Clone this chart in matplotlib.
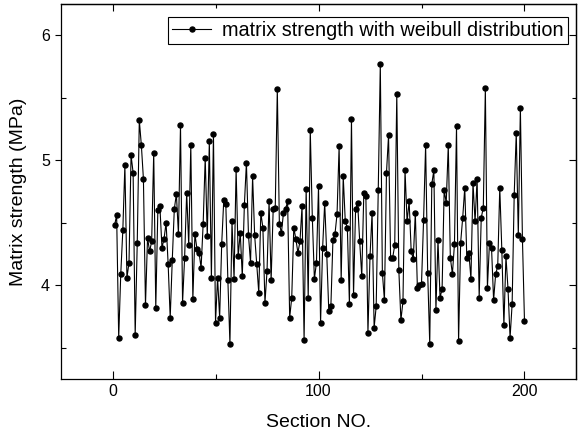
import numpy as np
import matplotlib
matplotlib.use('Agg')
import matplotlib.pyplot as plt
from matplotlib.ticker import MultipleLocator

plt.rcParams['font.family'] = ['Liberation Sans', 'DejaVu Sans']

# matrix strength of each section (MPa)
strength = [
    4.48, 4.56, 3.58, 4.09, 4.44, 4.96, 4.06, 4.18, 5.04, 4.90,
    3.60, 4.34, 5.32, 5.12, 4.85, 3.84, 4.38, 4.27, 4.35, 5.06,
    3.82, 4.60, 4.63, 4.30, 4.37, 4.50, 4.17, 3.74, 4.20, 4.61,
    4.73, 4.41, 5.28, 3.86, 4.22, 4.74, 4.32, 5.12, 3.89, 4.41,
    4.29, 4.26, 4.14, 4.49, 5.02, 4.39, 5.15, 4.06, 5.21, 3.70,
    4.06, 3.74, 4.33, 4.68, 4.65, 4.04, 3.53, 4.51, 4.05, 4.93,
    4.23, 4.42, 4.07, 4.64, 4.98, 4.40, 4.18, 4.87, 4.40, 4.17,
    3.94, 4.58, 4.46, 3.86, 4.11, 4.67, 4.04, 4.61, 4.62, 5.57,
    4.49, 4.42, 4.58, 4.61, 4.67, 3.74, 3.90, 4.46, 4.37, 4.26,
    4.35, 4.63, 3.56, 4.77, 3.90, 5.24, 4.54, 4.05, 4.18, 4.79,
    3.70, 4.30, 4.66, 4.25, 3.79, 3.83, 4.36, 4.41, 4.57, 5.11,
    4.04, 4.87, 4.51, 4.46, 3.85, 5.33, 3.92, 4.61, 4.66, 4.35,
    4.07, 4.74, 4.71, 3.62, 4.23, 4.58, 3.66, 3.83, 4.76, 5.77,
    4.10, 3.88, 4.90, 5.20, 4.22, 4.22, 4.32, 5.53, 4.12, 3.72,
    3.87, 4.92, 4.51, 4.67, 4.27, 4.21, 4.58, 3.98, 4.00, 4.01,
    4.52, 5.12, 4.10, 3.53, 4.81, 4.92, 3.80, 4.36, 3.90, 3.97,
    4.76, 4.66, 5.12, 4.22, 4.09, 4.33, 5.27, 3.55, 4.34, 4.54,
    4.78, 4.22, 4.26, 4.05, 4.82, 4.51, 4.85, 3.90, 4.54, 4.62,
    5.58, 3.98, 4.34, 4.30, 3.88, 4.09, 4.15, 4.78, 4.28, 3.68,
    4.23, 3.97, 3.58, 3.85, 4.72, 5.22, 4.40, 5.42, 4.37, 3.71,
]
section = np.arange(1, len(strength) + 1)

fig = plt.figure(figsize=(5.79, 4.41), dpi=100)
ax = fig.add_axes([0.1054, 0.1406, 0.8894, 0.8504])

ax.plot(section, strength, '-o', color='black', lw=0.8, ms=3.6,
        label='matrix strength with weibull distribution')

ax.set_xlim(-25, 225)
ax.set_ylim(3.25, 6.25)
ax.xaxis.set_major_locator(MultipleLocator(100))
ax.xaxis.set_minor_locator(MultipleLocator(50))
ax.yaxis.set_major_locator(MultipleLocator(1))
ax.yaxis.set_minor_locator(MultipleLocator(0.5))

ax.tick_params(which='both', direction='in', labelsize=11.5, width=0.8)
ax.tick_params(which='major', length=6)
ax.tick_params(which='minor', length=3.5)
ax.tick_params(axis='y', which='major', direction='out', length=4.5)

# mirrored ticks on top and right, pointing inward
top = ax.secondary_xaxis('top')
right = ax.secondary_yaxis('right')
top.xaxis.set_major_locator(MultipleLocator(100))
top.xaxis.set_minor_locator(MultipleLocator(50))
right.yaxis.set_major_locator(MultipleLocator(1))
right.yaxis.set_minor_locator(MultipleLocator(0.5))
for sec in (top, right):
    sec.tick_params(which='both', direction='in', width=0.8,
                    labeltop=False, labelright=False)
    sec.tick_params(which='major', length=5)
    sec.tick_params(which='minor', length=3)

for a in (ax, top, right):
    for s in a.spines.values():
        s.set_linewidth(0.9)

ax.set_xlabel('Section NO.', fontsize=14, labelpad=11)
ax.set_ylabel('Matrix strength (MPa)', fontsize=14, labelpad=10)

leg = ax.legend(loc='upper right', bbox_to_anchor=(0.9845, 0.9653),
                borderaxespad=0, fontsize=14.3, frameon=True, fancybox=False,
                edgecolor='black', framealpha=1, borderpad=0.2,
                handlelength=2.0, handletextpad=0.55)
leg.get_frame().set_linewidth(0.8)

fig.savefig('out.png', dpi=100)
